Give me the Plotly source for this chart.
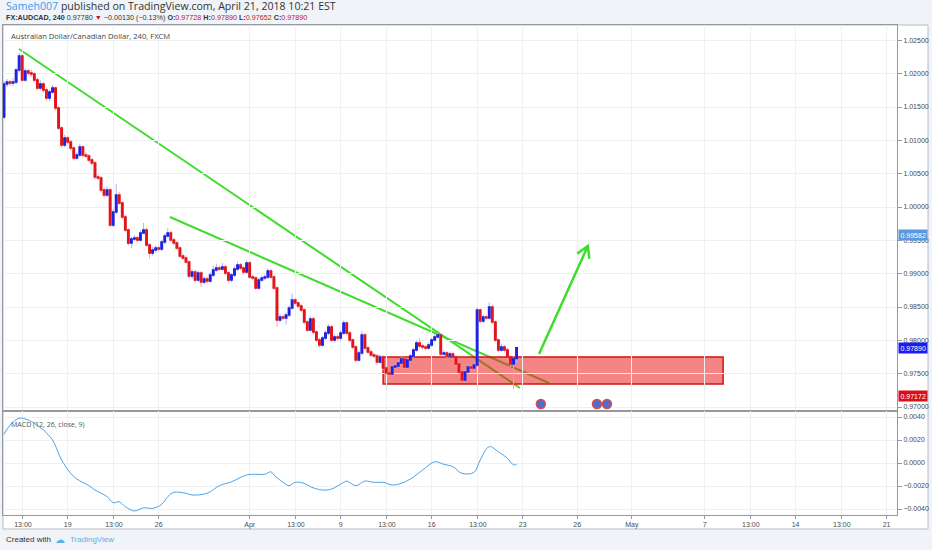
import plotly.graph_objects as go
from plotly.subplots import make_subplots

# FX:AUDCAD 240-minute bars, Mar 13 - Apr 20 2018 (weekends skipped)
opens = [
    1.01350, 1.01845, 1.01875, 1.01860, 1.01875, 1.02055, 1.02265, 1.01905, 1.02040, 1.02010,
    1.01995, 1.01905, 1.01785, 1.01845, 1.01755, 1.01635, 1.01725, 1.01785, 1.01485, 1.01185,
    1.00930, 1.01035, 1.00975, 1.00885, 1.00735, 1.00780, 1.00900, 1.00780, 1.00765, 1.00705,
    1.00660, 1.00450, 1.00435, 1.00255, 1.00180, 1.00255, 0.99730, 0.99925, 1.00180, 1.00060,
    0.99850, 0.99655, 0.99460, 0.99520, 0.99535, 0.99505, 0.99610, 0.99655, 0.99430, 0.99310,
    0.99355, 0.99385, 0.99370, 0.99475, 0.99565, 0.99610, 0.99505, 0.99460, 0.99385, 0.99265,
    0.99235, 0.99175, 0.98965, 0.99025, 0.98905, 0.99010, 0.98875, 0.98920, 0.98890, 0.98980,
    0.99055, 0.99085, 0.99070, 0.99100, 0.99010, 0.98905, 0.98980, 0.99070, 0.99130, 0.99085,
    0.99025, 0.99160, 0.98950, 0.98935, 0.98785, 0.98905, 0.98935, 0.98950, 0.99040, 0.98950,
    0.98785, 0.98305, 0.98350, 0.98335, 0.98380, 0.98485, 0.98605, 0.98560, 0.98515, 0.98455,
    0.98275, 0.98155, 0.98320, 0.98125, 0.98005, 0.97930, 0.98035, 0.98110, 0.98200, 0.98005,
    0.98050, 0.98035, 0.98110, 0.98260, 0.98110, 0.98005, 0.97900, 0.97705, 0.97810, 0.98080,
    0.97885, 0.97825, 0.97780, 0.97765, 0.97675, 0.97750, 0.97585, 0.97510, 0.97495, 0.97600,
    0.97615, 0.97660, 0.97720, 0.97600, 0.97705, 0.97765, 0.97855, 0.97960, 0.97915, 0.97900,
    0.97885, 0.97930, 0.98005, 0.98050, 0.98080, 0.97795, 0.97810, 0.97765, 0.97795, 0.97750,
    0.97645, 0.97525, 0.97405, 0.97525, 0.97600, 0.97585, 0.97630, 0.98455, 0.98290, 0.98350,
    0.98335, 0.98500, 0.98275, 0.98005, 0.97855, 0.97900, 0.97855, 0.97750, 0.97645, 0.97728,
]
highs = [
    1.01890, 1.01920, 1.01910, 1.01935, 1.02090, 1.02310, 1.02290, 1.02085, 1.02070, 1.02060,
    1.02030, 1.01940, 1.01900, 1.01880, 1.01790, 1.01760, 1.01830, 1.01810, 1.01520, 1.01210,
    1.01080, 1.01070, 1.01010, 1.00910, 1.00820, 1.00945, 1.00930, 1.00820, 1.00800, 1.00740,
    1.00690, 1.00490, 1.00470, 1.00290, 1.00310, 1.00290, 0.99970, 1.00350, 1.00230, 1.00090,
    0.99880, 0.99690, 0.99560, 0.99580, 0.99570, 0.99650, 0.99760, 0.99690, 0.99460, 0.99400,
    0.99420, 0.99420, 0.99510, 0.99600, 0.99680, 0.99640, 0.99540, 0.99490, 0.99410, 0.99300,
    0.99270, 0.99200, 0.99070, 0.99060, 0.99050, 0.99040, 0.98960, 0.98950, 0.99020, 0.99120,
    0.99150, 0.99120, 0.99160, 0.99130, 0.99040, 0.99010, 0.99110, 0.99180, 0.99160, 0.99110,
    0.99200, 0.99190, 0.98980, 0.98960, 0.98940, 0.98970, 0.98990, 0.99080, 0.99070, 0.98980,
    0.98810, 0.98400, 0.98380, 0.98420, 0.98520, 0.98700, 0.98640, 0.98590, 0.98550, 0.98480,
    0.98300, 0.98360, 0.98350, 0.98150, 0.98040, 0.98070, 0.98150, 0.98240, 0.98230, 0.98090,
    0.98090, 0.98150, 0.98300, 0.98290, 0.98140, 0.98030, 0.97930, 0.97850, 0.98140, 0.98110,
    0.97920, 0.97860, 0.97810, 0.97800, 0.97790, 0.97780, 0.97610, 0.97540, 0.97630, 0.97650,
    0.97700, 0.97760, 0.97750, 0.97740, 0.97800, 0.97890, 0.98000, 0.98030, 0.97950, 0.97930,
    0.97970, 0.98040, 0.98090, 0.98120, 0.98110, 0.97850, 0.97840, 0.97830, 0.97830, 0.97780,
    0.97670, 0.97550, 0.97560, 0.97640, 0.97630, 0.97670, 0.98490, 0.98480, 0.98390, 0.98380,
    0.98570, 0.98530, 0.98300, 0.98030, 0.97940, 0.97930, 0.97890, 0.97780, 0.97760, 0.97890,
]
lows = [
    1.01320, 1.01800, 1.01820, 1.01815, 1.01840, 1.02020, 1.01870, 1.01880, 1.01975, 1.01950,
    1.01870, 1.01750, 1.01750, 1.01720, 1.01600, 1.01590, 1.01700, 1.01450, 1.01150, 1.00890,
    1.00900, 1.00940, 1.00850, 1.00700, 1.00700, 1.00750, 1.00740, 1.00730, 1.00670, 1.00620,
    1.00410, 1.00400, 1.00220, 1.00140, 1.00150, 0.99700, 0.99700, 0.99900, 1.00030, 0.99810,
    0.99620, 0.99420, 0.99380, 0.99490, 0.99470, 0.99480, 0.99590, 0.99400, 0.99230, 0.99270,
    0.99320, 0.99340, 0.99340, 0.99440, 0.99540, 0.99470, 0.99430, 0.99350, 0.99230, 0.99200,
    0.99140, 0.98930, 0.98920, 0.98870, 0.98880, 0.98800, 0.98840, 0.98860, 0.98860, 0.98950,
    0.99030, 0.99040, 0.99040, 0.98980, 0.98870, 0.98870, 0.98950, 0.99040, 0.99050, 0.98990,
    0.99000, 0.98920, 0.98900, 0.98750, 0.98760, 0.98880, 0.98900, 0.98920, 0.98920, 0.98750,
    0.98200, 0.98270, 0.98300, 0.98240, 0.98350, 0.98460, 0.98530, 0.98480, 0.98420, 0.98240,
    0.98120, 0.98130, 0.98090, 0.97970, 0.97890, 0.97900, 0.98000, 0.98080, 0.97970, 0.97970,
    0.98000, 0.98000, 0.98080, 0.98080, 0.97970, 0.97860, 0.97670, 0.97680, 0.97780, 0.97850,
    0.97790, 0.97750, 0.97730, 0.97640, 0.97650, 0.97550, 0.97480, 0.97460, 0.97470, 0.97570,
    0.97590, 0.97630, 0.97570, 0.97570, 0.97680, 0.97740, 0.97830, 0.97890, 0.97870, 0.97850,
    0.97860, 0.97900, 0.97980, 0.98030, 0.97760, 0.97760, 0.97730, 0.97740, 0.97720, 0.97610,
    0.97490, 0.97380, 0.97390, 0.97500, 0.97550, 0.97560, 0.97600, 0.98250, 0.98260, 0.98300,
    0.98310, 0.98240, 0.97970, 0.97820, 0.97830, 0.97820, 0.97720, 0.97600, 0.97270, 0.97652,
]
closes = [
    1.01845, 1.01875, 1.01860, 1.01875, 1.02055, 1.02265, 1.01905, 1.02040, 1.02010, 1.01995,
    1.01905, 1.01785, 1.01845, 1.01755, 1.01635, 1.01725, 1.01785, 1.01485, 1.01185, 1.00930,
    1.01035, 1.00975, 1.00885, 1.00735, 1.00780, 1.00900, 1.00780, 1.00765, 1.00705, 1.00660,
    1.00450, 1.00435, 1.00255, 1.00180, 1.00255, 0.99730, 0.99925, 1.00180, 1.00060, 0.99850,
    0.99655, 0.99460, 0.99520, 0.99535, 0.99505, 0.99610, 0.99655, 0.99430, 0.99310, 0.99355,
    0.99385, 0.99370, 0.99475, 0.99565, 0.99610, 0.99505, 0.99460, 0.99385, 0.99265, 0.99235,
    0.99175, 0.98965, 0.99025, 0.98905, 0.99010, 0.98875, 0.98920, 0.98890, 0.98980, 0.99055,
    0.99085, 0.99070, 0.99100, 0.99010, 0.98905, 0.98980, 0.99070, 0.99130, 0.99085, 0.99025,
    0.99160, 0.98950, 0.98935, 0.98785, 0.98905, 0.98935, 0.98950, 0.99040, 0.98950, 0.98785,
    0.98305, 0.98350, 0.98335, 0.98380, 0.98485, 0.98605, 0.98560, 0.98515, 0.98455, 0.98275,
    0.98155, 0.98320, 0.98125, 0.98005, 0.97930, 0.98035, 0.98110, 0.98200, 0.98005, 0.98050,
    0.98035, 0.98110, 0.98260, 0.98110, 0.98005, 0.97900, 0.97705, 0.97810, 0.98080, 0.97885,
    0.97825, 0.97780, 0.97765, 0.97675, 0.97750, 0.97585, 0.97510, 0.97495, 0.97600, 0.97615,
    0.97660, 0.97720, 0.97600, 0.97705, 0.97765, 0.97855, 0.97960, 0.97915, 0.97900, 0.97885,
    0.97930, 0.98005, 0.98050, 0.98080, 0.97795, 0.97810, 0.97765, 0.97795, 0.97750, 0.97645,
    0.97525, 0.97405, 0.97525, 0.97600, 0.97585, 0.97630, 0.98455, 0.98290, 0.98350, 0.98335,
    0.98500, 0.98275, 0.98005, 0.97855, 0.97900, 0.97855, 0.97750, 0.97645, 0.97728, 0.97890,
]
bars = list(range(len(closes)))

# MACD (12, 26, close, 9) line, sampled at bar numbers
macd_bars = [0, 2, 5, 8, 10, 13, 16, 19, 22, 24, 28, 30, 34, 36, 38, 40, 43, 46, 49, 52,
             54, 56, 60, 62, 67, 71, 75, 80, 83, 86, 88, 89, 92, 94, 96, 99, 101, 105, 108, 112,
             113, 116, 119, 122, 125, 128, 131, 134, 138, 139, 142, 145, 148, 151, 155, 157, 160, 163, 166, 168,
             169]
macd = [0.00250, 0.00330, 0.00389, 0.00374, 0.00345, 0.00287, 0.00200, 0.00026, -0.00090, -0.00139,
        -0.00197, -0.00235, -0.00293, -0.00345, -0.00337, -0.00380, -0.00417, -0.00389, -0.00394, -0.00359,
        -0.00293, -0.00255, -0.00263, -0.00278, -0.00263, -0.00197, -0.00163, -0.00104, -0.00098, -0.00098,
        -0.00076, -0.00104, -0.00168, -0.00197, -0.00168, -0.00177, -0.00206, -0.00235, -0.00226, -0.00168,
        -0.00157, -0.00197, -0.00157, -0.00168, -0.00168, -0.00191, -0.00177, -0.00139, -0.00061, -0.00041,
        0.00011, -0.00011, -0.00032, -0.00090, -0.00081, 0.00026, 0.00142, 0.00098, 0.00041, -0.00017,
        -0.00011]

# time axis labels (bar numbers, weekends skipped)
time_ticks = [6.25, 21, 36.25, 51, 81, 96.25, 111, 126.25, 141, 156.25, 171, 189, 207, 231, 246.25, 261, 276.25, 291]
time_labels = ["13:00", "19", "13:00", "26", "Apr", "13:00", "9", "13:00", "16", "13:00", "23", "26", "May",
               "7", "13:00", "14", "13:00", "21"]
price_ticks = [0.970, 0.975, 0.980, 0.985, 0.990, 0.995, 1.000, 1.005, 1.010, 1.015, 1.020, 1.025]
macd_ticks = [-0.004, -0.002, 0.0, 0.002, 0.004]

# drawings on the chart
resistance = 0.99582
support = 0.97172
last_price = 0.97890
zone = (125.0, 237.1, 0.97345, 0.97750)
trend1 = (4.95, 1.02370, 170.1, 0.97285)
trend2 = (54.7, 0.99850, 179.7, 0.97360)
arrow = (176.4, 0.97795, 192.5, 0.99415)
arrow_wings = ((189.0, 0.99301), (193.0, 0.99222))
event_bars = [177, 195.5, 198.8]

BLUE = "#1f22e0"
RED = "#e0161c"
GREEN = "#3fdc2c"
GRID = "#eef0f3"
AXIS = "#9598a1"
TXT = "#4a4a4a"
VAL = "#c4161c"

fig = make_subplots(rows=2, cols=1, shared_xaxes=True, vertical_spacing=0,
                    row_heights=[0.7878, 0.2122])

# wicks (pale) then bodies on top
fig.add_trace(go.Candlestick(
    x=bars, open=opens, high=highs, low=lows, close=closes,
    increasing=dict(line=dict(color="#aab3ee", width=1), fillcolor="rgba(0,0,0,0)"),
    decreasing=dict(line=dict(color="#f1a9ab", width=1), fillcolor="rgba(0,0,0,0)"),
    whiskerwidth=0, hoverinfo="skip", showlegend=False), row=1, col=1)
fig.add_trace(go.Candlestick(
    x=bars, open=opens, close=closes,
    high=[max(o, c) for o, c in zip(opens, closes)],
    low=[min(o, c) for o, c in zip(opens, closes)],
    increasing=dict(line=dict(color=BLUE, width=1.4), fillcolor=BLUE),
    decreasing=dict(line=dict(color=RED, width=1.4), fillcolor=RED),
    whiskerwidth=0, showlegend=False, name="AUDCAD"), row=1, col=1)

fig.add_trace(go.Scatter(
    x=event_bars, y=[0.97045] * len(event_bars), mode="markers",
    marker=dict(symbol="circle", size=9, color="#4d6fcf", line=dict(color="#e04848", width=1.5)),
    hoverinfo="skip", showlegend=False), row=1, col=1)

fig.add_trace(go.Scatter(
    x=macd_bars, y=macd, mode="lines", line=dict(color="#4aa3e8", width=1),
    line_shape="spline", showlegend=False, name="MACD"), row=2, col=1)

shapes = [
    dict(type="line", xref="paper", x0=0, x1=1, yref="y", y0=resistance, y1=resistance,
         line=dict(color="#5b95dd", width=3), layer="below"),
    dict(type="line", xref="paper", x0=0, x1=1, yref="y", y0=support, y1=support,
         line=dict(color="#d81018", width=2), layer="below"),
    dict(type="line", xref="paper", x0=0, x1=1, yref="y", y0=last_price, y1=last_price,
         line=dict(color="#3030f0", width=1, dash="dot"), layer="below"),
    dict(type="line", xref="x", yref="y", x0=trend1[0], y0=trend1[1], x1=trend1[2], y1=trend1[3],
         line=dict(color=GREEN, width=2), layer="below"),
    dict(type="line", xref="x", yref="y", x0=trend2[0], y0=trend2[1], x1=trend2[2], y1=trend2[3],
         line=dict(color=GREEN, width=2), layer="below"),
    dict(type="rect", xref="x", yref="y", x0=zone[0], x1=zone[1], y0=zone[2], y1=zone[3],
         fillcolor="rgba(236,32,32,0.55)", line=dict(color="#d41414", width=1.5), layer="below"),
    dict(type="path", xref="x", yref="y",
         path=(f"M {arrow[0]} {arrow[1]} L {arrow[2]} {arrow[3]} "
               f"M {arrow_wings[0][0]} {arrow_wings[0][1]} L {arrow[2]} {arrow[3]} "
               f"L {arrow_wings[1][0]} {arrow_wings[1][1]}"),
         line=dict(color=GREEN, width=2.5)),
    # white chart frame
    dict(type="rect", xref="paper", yref="paper", x0=0, x1=1.0347, y0=-0.0286, y1=1,
         fillcolor="white", line=dict(color="#b8bbc2", width=1), layer="below"),
]

header2 = ("<b>FX:AUDCAD, 240</b> 0.97780 <span style='color:%s'>▼</span> −0.00130 (−0.13%%) "
           "<b>O:</b><span style='color:%s'>0.97728</span> <b>H:</b><span style='color:%s'>0.97890</span> "
           "<b>L:</b><span style='color:%s'>0.97652</span> <b>C:</b><span style='color:%s'>0.97890</span>"
           % (VAL, VAL, VAL, VAL, VAL))

annotations = [
    dict(xref="paper", yref="paper", x=0, y=1.0388, xanchor="left", yanchor="middle", xshift=1,
         showarrow=False, font=dict(family="Open Sans", size=10.6, color="#333"),
         text="<span style='color:#3d9be9'>Sameh007</span> published on TradingView.com, April 21, 2018 10:21 EST"),
    dict(xref="paper", yref="paper", x=0, y=1.0148, xanchor="left", yanchor="middle", xshift=1,
         showarrow=False, font=dict(family="Liberation Sans", size=7.2, color="#333"),
         text=header2),
    dict(xref="paper", yref="paper", x=0.0067, y=0.9776, xanchor="left", yanchor="middle",
         showarrow=False, font=dict(family="Open Sans", size=7.6, color="#444"),
         text="Australian Dollar/Canadian Dollar, 240, FXCM"),
    dict(xref="paper", yref="paper", x=0.0067, y=0.1857, xanchor="left", yanchor="middle",
         showarrow=False, font=dict(family="Open Sans", size=7, color="#555"),
         text="MACD (12, 26, close, 9)"),
    dict(xref="paper", yref="paper", x=0.001, y=-0.051, xanchor="left", yanchor="middle",
         showarrow=False, font=dict(family="Liberation Sans", size=8, color="#333"),
         text="Created with"),
    dict(xref="paper", yref="paper", x=0.056, y=-0.051, xanchor="left", yanchor="middle",
         showarrow=False, font=dict(family="DejaVu Sans", size=10, color="#5ab0e8"),
         text="☁"),
    dict(xref="paper", yref="paper", x=0.0727, y=-0.051, xanchor="left", yanchor="middle",
         showarrow=False, font=dict(family="Liberation Sans", size=8, color="#5ab0e8"),
         text="TradingView"),
]
for val, bg in [(resistance, "#5d98dc"), (last_price, "#1c1cf0"), (support, "#d81018")]:
    annotations.append(dict(
        xref="paper", yref="y", x=1, y=val, xanchor="left", yanchor="middle", xshift=1,
        showarrow=False, text=f"{val:.5f}", bgcolor=bg, borderpad=1.5,
        font=dict(family="Liberation Sans", size=7, color="white")))

fig.update_layout(
    width=932, height=550,
    margin=dict(l=3, r=35, t=25, b=35),
    paper_bgcolor="#f0f3f8", plot_bgcolor="white",
    font=dict(family="Liberation Sans", size=7, color=TXT),
    shapes=shapes, annotations=annotations,
    showlegend=False, hovermode=False,
)

axis_common = dict(showline=True, linecolor=AXIS, linewidth=1, mirror=True,
                   gridcolor=GRID, zeroline=False)
fig.update_xaxes(range=[-0.33, 294.43], tickmode="array", tickvals=time_ticks, ticktext=time_labels,
                 rangeslider_visible=False, **axis_common)
fig.update_xaxes(showticklabels=False, ticks="", row=1, col=1)
fig.update_xaxes(ticks="outside", ticklen=3, tickcolor=AXIS, row=2, col=1)

fig.update_yaxes(side="right", ticks="outside", ticklen=4, tickcolor=AXIS, **axis_common)
fig.update_yaxes(range=[0.96940, 1.02730], tickmode="array", tickvals=price_ticks,
                 tickformat=".5f", row=1, col=1)
fig.update_yaxes(range=[-0.00452, 0.00452], tickmode="array", tickvals=macd_ticks,
                 tickformat=".4f", row=2, col=1)

# the page's default body margin would shift the figure by 8px
fig.write_html("out.html", config={"displayModeBar": False},
               post_script="document.body.style.margin='0px';")
